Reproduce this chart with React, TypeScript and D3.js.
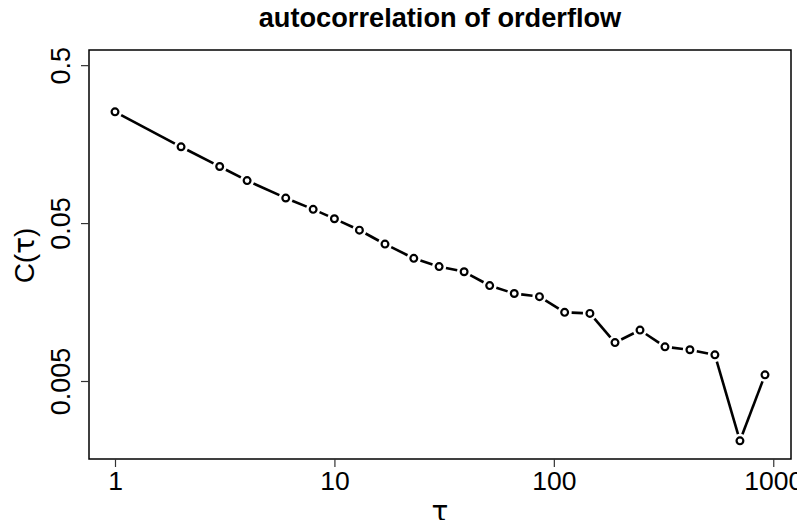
import React, { useEffect, useRef } from "react";
import * as d3 from "d3";

// lags tau and the autocorrelation C(tau)
const lags = [1, 2, 3, 4, 6, 8, 10, 13, 17, 23, 30, 39, 51, 66, 86, 112, 146, 190, 247, 321, 417, 542, 705, 917];
const acf = [
  0.253, 0.152, 0.114, 0.0929, 0.072, 0.0611, 0.0533, 0.0451, 0.0368, 0.0299, 0.0265, 0.0246,
  0.0201, 0.0179, 0.0171, 0.0136, 0.0134, 0.00875, 0.0105, 0.00823, 0.00788, 0.00732, 0.00209, 0.00547,
];
const xTicks = [1, 10, 100, 1000];
const yTicks = [0.005, 0.05, 0.5];
const yLimits = [0.002, 0.5];

const W = 805;
const H = 528;
const margin = { top: 50, right: 14, bottom: 69, left: 89 };

// R style log range, padded by 4% on each side
const logPad = (lo: number, hi: number) => {
  const a = Math.log10(lo);
  const b = Math.log10(hi);
  const e = 0.04 * (b - a);
  return [Math.pow(10, a - e), Math.pow(10, b + e)];
};

const Chart = () => {
  const ref = useRef<SVGSVGElement>(null);

  useEffect(() => {
    const svg = d3.select(ref.current);
    svg.selectAll("*").remove();

    const font = "'Liberation Sans', Arial, Helvetica, sans-serif";
    const greek = "'DejaVu Sans', 'Liberation Sans', sans-serif";
    const x0 = margin.left;
    const x1 = W - margin.right;
    const y0 = H - margin.bottom;
    const y1 = margin.top;

    const x = d3
      .scaleLog()
      .domain(logPad(d3.min(lags)!, d3.max(lags)!))
      .range([x0, x1]);
    const y = d3.scaleLog().domain(logPad(yLimits[0], yLimits[1])).range([y0, y1]);

    const data = lags.map((t, i) => ({ t, c: acf[i] }));

    // type = "b": segments with a gap around each point
    const gap = 7;
    const segs = svg.append("g").attr("stroke", "#000").attr("stroke-width", 2.6);
    for (let i = 0; i < data.length - 1; i++) {
      const ax = x(data[i].t);
      const ay = y(data[i].c);
      const bx = x(data[i + 1].t);
      const by = y(data[i + 1].c);
      const len = Math.hypot(bx - ax, by - ay);
      if (len <= 2 * gap) continue;
      const ux = (bx - ax) / len;
      const uy = (by - ay) / len;
      segs
        .append("line")
        .attr("x1", ax + ux * gap)
        .attr("y1", ay + uy * gap)
        .attr("x2", bx - ux * gap)
        .attr("y2", by - uy * gap);
    }

    svg
      .append("g")
      .selectAll("circle")
      .data(data)
      .join("circle")
      .attr("cx", (d) => x(d.t))
      .attr("cy", (d) => y(d.c))
      .attr("r", 3.4)
      .attr("fill", "none")
      .attr("stroke", "#000")
      .attr("stroke-width", 2.2);

    // box
    svg
      .append("rect")
      .attr("x", x0)
      .attr("y", y1)
      .attr("width", x1 - x0)
      .attr("height", y0 - y1)
      .attr("fill", "none")
      .attr("stroke", "#000")
      .attr("stroke-width", 1.5);

    // x axis
    const gx = svg.append("g").attr("transform", `translate(0,${y0})`);
    gx.call(
      d3
        .axisBottom(x)
        .tickValues(xTicks)
        .tickFormat((d) => String(d))
        .tickSize(8)
        .tickSizeOuter(0)
    );
    gx.select(".domain").remove();
    gx.selectAll("line").attr("stroke", "#333").attr("stroke-width", 1.2);
    gx.selectAll("text")
      .attr("font-family", font)
      .attr("font-size", 26.5)
      .attr("fill", "#000")
      .attr("dy", null)
      .attr("y", 31);

    // y axis, labels turned like R's default
    const gy = svg.append("g").attr("transform", `translate(${x0},0)`);
    gy.call(
      d3
        .axisLeft(y)
        .tickValues(yTicks)
        .tickFormat((d) => String(d))
        .tickSize(8)
        .tickSizeOuter(0)
    );
    gy.select(".domain").remove();
    gy.selectAll("line").attr("stroke", "#333").attr("stroke-width", 1.2);
    gy.selectAll("text")
      .attr("font-family", font)
      .attr("font-size", 27)
      .attr("fill", "#000")
      .attr("x", null)
      .attr("dy", null)
      .attr("text-anchor", "middle")
      .attr("transform", "translate(-19,0) rotate(-90)");

    // title
    svg
      .append("text")
      .attr("x", (x0 + x1) / 2)
      .attr("y", 27)
      .attr("text-anchor", "middle")
      .attr("font-family", font)
      .attr("font-weight", "bold")
      .attr("font-size", 27.2)
      .text("autocorrelation of orderflow");

    // x label
    svg
      .append("text")
      .attr("x", (x0 + x1) / 2)
      .attr("y", 521)
      .attr("text-anchor", "middle")
      .attr("font-family", greek)
      .attr("font-size", 28)
      .text("τ");

    // y label
    const yl = svg
      .append("text")
      .attr("transform", `translate(34,${(y0 + y1) / 2 + 1}) rotate(-90)`)
      .attr("text-anchor", "middle")
      .attr("font-family", font)
      .attr("font-size", 28);
    yl.append("tspan").text("C(");
    yl.append("tspan").attr("font-family", greek).text("τ");
    yl.append("tspan").text(")");
  }, []);

  return <svg ref={ref} width={W} height={H} style={{ display: "block" }}></svg>;
};

export default function App() {
  return (
    <div style={{ margin: -8 }}>
      <Chart />
    </div>
  );
}
